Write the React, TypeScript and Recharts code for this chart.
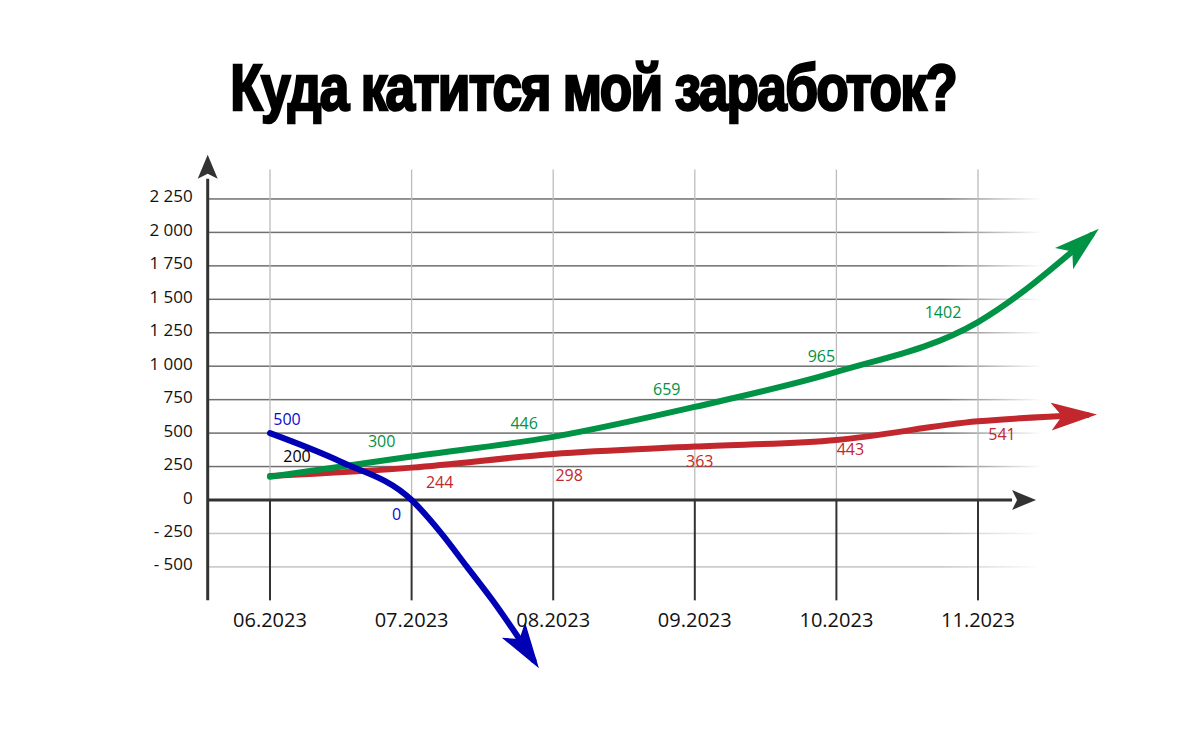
import { LineChart, Line, XAxis, YAxis, ReferenceLine, ReferenceDot, LabelList } from "recharts"

const title = "Куда катится мой заработок?"
const months = ["06.2023", "07.2023", "08.2023", "09.2023", "10.2023", "11.2023"]
const monthTicks = [0, 1, 2, 3, 4, 5]
const yTicks = [-500, -250, 0, 250, 500, 750, 1000, 1250, 1500, 1750, 2000, 2250]

// x = month index (0 = 06.2023), the last point is where the arrow ends
const greenX = [0, 1, 2, 3, 4, 5, 5.8]
const greenY = [174, 325, 472, 696, 957, 1330, 1979]
const greenLabels = ["", "300", "446", "659", "965", "1402", ""]

const redX = [0, 1, 2, 3, 4, 5, 5.77]
const redY = [179, 242, 344, 399, 449, 588, 635]
const redLabels = ["", "244", "298", "363", "443", "541", ""]

const blueX = [0, 0.5, 1, 1.21, 1.39, 1.57, 1.86]
const blueY = [500, 286, 0, -249, -498, -748, -1195]
const blueLabels = ["500", "", "0", "", "", "", ""]

const startLabel = "200"

// label nudges from the point (px)
const greenNudge = [[0, 0], [-30, -16], [-29, -14], [-28, -18], [-15, -16], [-35, -10], [0, 0]]
const redNudge = [[0, 0], [28, 14], [16, 21], [5, 14], [14, 9], [24, 13], [0, 0]]
const blueNudge = [[17, -14], [0, 0], [-15, 14], [0, 0], [0, 0], [0, 0], [0, 0]]

const GREEN = "#009245"
const RED = "#c1272d"
const BLUE = "#0000b4"
const AXIS = "#333"
const FONT = "'Open Sans', 'Noto Sans', sans-serif"

const X_MIN = -0.44
const X_MAX = 6.0
const Y_MIN = -1420
const Y_MAX = 2580
const X_ARROW = 5.41
const GRID_END = 5.45
const AXIS_BOTTOM = -750
const VGRID_TOP = 2470

const toRows = (xs: number[], ys: number[], labels: string[]) =>
  xs.map((x, i) => ({ x, v: ys[i], label: labels[i] }))

const greenData = toRows(greenX, greenY, greenLabels)
const redData = toRows(redX, redY, redLabels)
const blueData = toRows(blueX, blueY, blueLabels)

function fmt(v: number) {
  const a = Math.abs(v)
  const s = a >= 1000 ? `${Math.floor(a / 1000)} ${String(a % 1000).padStart(3, "0")}` : String(a)
  return v < 0 ? `- ${s}` : s
}

function YTick(props: any) {
  const { x, y, payload } = props
  return (
    <text x={x} y={y} dy={-3} textAnchor="end" dominantBaseline="central" fontFamily={FONT} fontSize={17} fill="#111">
      {fmt(payload.value)}
    </text>
  )
}

function XTick(props: any) {
  const { x, y, payload } = props
  return (
    <text x={x} y={y - 63} textAnchor="middle" fontFamily={FONT} fontSize={20} fill="#111">
      {months[payload.value]}
    </text>
  )
}

function ArrowAxis(props: any) {
  const { x1, y1, x2, y2 } = props
  const len = Math.hypot(x2 - x1, y2 - y1) || 1
  const ux = (x2 - x1) / len
  const uy = (y2 - y1) / len
  const L = 24
  const W = 10
  const bx = x2 - ux * L
  const by = y2 - uy * L
  return (
    <g>
      <line x1={x1} y1={y1} x2={bx} y2={by} stroke={AXIS} strokeWidth={3} />
      <polygon
        points={`${x2},${y2} ${bx - uy * W},${by + ux * W} ${bx + ux * 5},${by + uy * 5} ${bx + uy * W},${by - ux * W}`}
        fill={AXIS}
      />
    </g>
  )
}

function FadeLine(props: any) {
  const { x1, y1, x2, fade } = props
  return <rect x={Math.min(x1, x2)} y={y1 - 0.75} width={Math.abs(x2 - x1)} height={1.5} fill={`url(#${fade})`} />
}

function makeLabel(nudge: number[][], color: string) {
  return (props: any) => {
    const { value, index } = props
    if (!value) return null
    const px = props.x ?? props.viewBox?.x
    const py = props.y ?? props.viewBox?.y
    const [dx, dy] = nudge[index] || [0, 0]
    return (
      <text x={px + dx} y={py + dy} textAnchor="middle" dominantBaseline="central" fontFamily={FONT} fontSize={16} fill={color}>
        {value}
      </text>
    )
  }
}

function Marker({ id, color }: { id: string; color: string }) {
  return (
    <marker id={id} markerUnits="userSpaceOnUse" markerWidth={50} markerHeight={30} refX={36} refY={14} orient="auto">
      <path d="M0,0 L46,14 L0,28 L11,14 Z" fill={color} />
    </marker>
  )
}

export default function App() {
  return (
    <div style={{ position: "absolute", top: 0, left: 0, width: 1200, height: 750, background: "#fff" }}>
      <div
        style={{
          position: "absolute",
          top: 55.8,
          left: -6.5,
          width: 1200,
          textAlign: "center",
          whiteSpace: "nowrap",
        }}
      >
        <span
          style={{
            display: "inline-block",
            transform: "scaleX(0.83)",
            transformOrigin: "50% 50%",
            fontFamily: "'Liberation Sans', Arial, sans-serif",
            fontWeight: 700,
            fontSize: 64,
            lineHeight: "64px",
            letterSpacing: -2,
            color: "#000",
            WebkitTextStroke: "2.5px #000",
          }}
        >
          {title}
        </span>
      </div>
      <LineChart width={1200} height={750} margin={{ top: 154.8, right: 80.4, bottom: 30, left: 0 }}>
        <defs>
          <linearGradient id="fadeDark" x1="0" y1="0" x2="1" y2="0">
            <stop offset="0%" stopColor="#6f6f6f" />
            <stop offset="88%" stopColor="#6f6f6f" />
            <stop offset="100%" stopColor="#6f6f6f" stopOpacity={0} />
          </linearGradient>
          <linearGradient id="fadeLight" x1="0" y1="0" x2="1" y2="0">
            <stop offset="0%" stopColor="#c4c4c4" />
            <stop offset="88%" stopColor="#c4c4c4" />
            <stop offset="100%" stopColor="#c4c4c4" stopOpacity={0} />
          </linearGradient>
          <Marker id="arrowGreen" color={GREEN} />
          <Marker id="arrowRed" color={RED} />
          <Marker id="arrowBlue" color={BLUE} />
        </defs>
        <XAxis
          type="number"
          dataKey="x"
          domain={[X_MIN, X_MAX]}
          ticks={monthTicks}
          interval={0}
          axisLine={false}
          tickLine={false}
          tickSize={0}
          tickMargin={0}
          height={30}
          tick={<XTick />}
        />
        <YAxis
          type="number"
          domain={[Y_MIN, Y_MAX]}
          ticks={yTicks}
          interval={0}
          axisLine={false}
          tickLine={false}
          tickSize={0}
          tickMargin={15}
          width={207.7}
          tick={<YTick />}
        />

        {yTicks
          .filter((t) => t !== 0)
          .map((t) => (
            <ReferenceLine
              key={`h${t}`}
              ifOverflow="visible"
              segment={[{ x: X_MIN, y: t }, { x: GRID_END, y: t }]}
              shape={<FadeLine fade={t > 0 ? "fadeDark" : "fadeLight"} />}
            />
          ))}
        {monthTicks.map((m) => (
          <ReferenceLine
            key={`vu${m}`}
            ifOverflow="visible"
            segment={[{ x: m, y: 0 }, { x: m, y: VGRID_TOP }]}
            stroke="#bcbcbc"
            strokeWidth={1.3}
          />
        ))}
        {monthTicks.map((m) => (
          <ReferenceLine
            key={`vd${m}`}
            ifOverflow="visible"
            segment={[{ x: m, y: AXIS_BOTTOM }, { x: m, y: 0 }]}
            stroke={AXIS}
            strokeWidth={2}
          />
        ))}
        <ReferenceLine
          ifOverflow="visible"
          segment={[{ x: X_MIN, y: 0 }, { x: X_ARROW, y: 0 }]}
          shape={<ArrowAxis />}
        />
        <ReferenceLine
          ifOverflow="visible"
          segment={[{ x: X_MIN, y: AXIS_BOTTOM }, { x: X_MIN, y: Y_MAX }]}
          shape={<ArrowAxis />}
        />

        <Line
          data={redData}
          dataKey="v"
          type="monotone"
          stroke={RED}
          strokeWidth={6}
          strokeLinecap="round"
          dot={false}
          activeDot={false}
          markerEnd="url(#arrowRed)"
          isAnimationActive={false}
        >
          <LabelList dataKey="label" content={makeLabel(redNudge, RED)} />
        </Line>
        <Line
          data={greenData}
          dataKey="v"
          type="monotone"
          stroke={GREEN}
          strokeWidth={6}
          strokeLinecap="round"
          dot={false}
          activeDot={false}
          markerEnd="url(#arrowGreen)"
          isAnimationActive={false}
        >
          <LabelList dataKey="label" content={makeLabel(greenNudge, GREEN)} />
        </Line>
        <Line
          data={blueData}
          dataKey="v"
          type="monotone"
          stroke={BLUE}
          strokeWidth={6}
          strokeLinecap="round"
          dot={false}
          activeDot={false}
          markerEnd="url(#arrowBlue)"
          isAnimationActive={false}
        >
          <LabelList dataKey="label" content={makeLabel(blueNudge, "#0a0ad0")} />
        </Line>
        <ReferenceDot
          x={greenX[0]}
          y={greenY[0]}
          r={0}
          ifOverflow="visible"
          shape={(p: any) => (
            <text x={p.cx + 27} y={p.cy - 21} textAnchor="middle" dominantBaseline="central" fontFamily={FONT} fontSize={16} fill="#000">
              {startLabel}
            </text>
          )}
        />
      </LineChart>
    </div>
  )
}
